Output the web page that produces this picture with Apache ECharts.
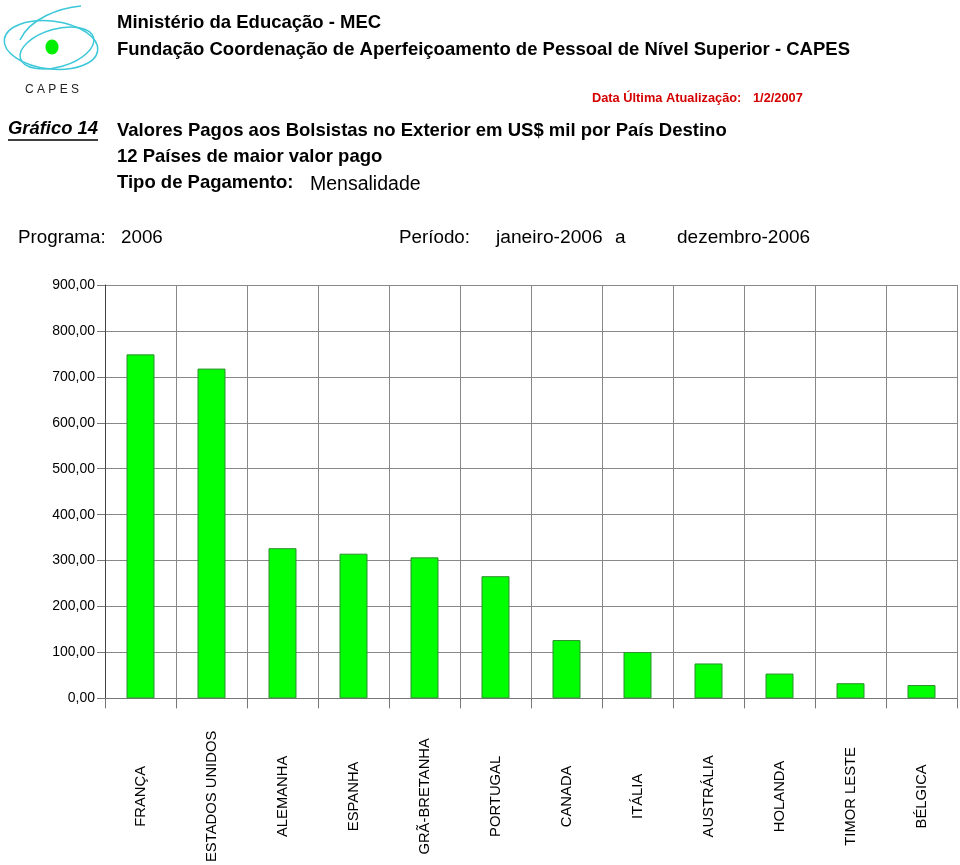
<!DOCTYPE html>
<html>
<head>
<meta charset="utf-8">
<script src="https://cdn.jsdelivr.net/npm/echarts@6/dist/echarts.min.js"></script>
<style>
html,body{margin:0;padding:0;background:#fff;}
#chart{width:960px;height:865px;}
</style>
</head>
<body>
<div id="chart"></div>
<script>
var categories = ['FRANÇA','ESTADOS UNIDOS','ALEMANHA','ESPANHA','GRÃ-BRETANHA','PORTUGAL','CANADA','ITÁLIA','AUSTRÁLIA','HOLANDA','TIMOR LESTE','BÉLGICA'];
var values = [749, 718, 327, 315, 307, 266, 127, 101, 76, 54, 33, 29];
var yTicks = {min: 0, max: 900, interval: 100};

var FONT = '"Liberation Sans", Arial, sans-serif';
var chart = echarts.init(document.getElementById('chart'), null, {renderer: 'canvas'});

function txt(x, y, text, size, opts) {
  opts = opts || {};
  return {
    type: 'text', x: x, y: y, silent: true,
    style: {
      text: text,
      fontFamily: FONT,
      fontSize: size,
      fontWeight: opts.weight || 'normal',
      fontStyle: opts.style || 'normal',
      fill: opts.color || '#000',
      textVerticalAlign: 'middle',
      textAlign: opts.align || 'left'
    }
  };
}

var graphics = [
  // logo
  {type: 'ellipse', x: 51, y: 45, rotation: -0.12, shape: {cx: 0, cy: 0, rx: 47, ry: 24}, style: {fill: 'none', stroke: '#3cc8d8', lineWidth: 1.5}, silent: true},
  {type: 'ellipse', x: 57, y: 48, rotation: 0.28, shape: {cx: 0, cy: 0, rx: 38, ry: 19}, style: {fill: 'none', stroke: '#3cc8d8', lineWidth: 1.5}, silent: true},
  {type: 'bezierCurve', shape: {x1: 20, y1: 40, cpx1: 30, cpy1: 18, x2: 81, y2: 6, cpx2: 60, cpy2: 8}, style: {fill: 'none', stroke: '#3cc8d8', lineWidth: 1.5}, silent: true},
  {type: 'ellipse', shape: {cx: 52, cy: 47, rx: 6.5, ry: 7.5}, style: {fill: '#00ee00'}, silent: true},
  txt(25, 90, 'C A P E S', 12, {color: '#222'}),
  // header
  txt(117, 23, 'Ministério da Educação - MEC', 18.5, {weight: 'bold'}),
  txt(117, 50, 'Fundação Coordenação de Aperfeiçoamento de Pessoal de Nível Superior - CAPES', 18.5, {weight: 'bold'}),
  txt(592, 98, 'Data Última Atualização:', 12.8, {weight: 'bold', color: '#d40000'}),
  txt(753, 98, '1/2/2007', 12.8, {weight: 'bold', color: '#d40000'}),
  txt(8, 129, 'Gráfico 14', 18.4, {weight: 'bold', style: 'italic'}),
  {type: 'line', shape: {x1: 8, y1: 140, x2: 98, y2: 140}, style: {stroke: '#000', lineWidth: 1.5}, silent: true},
  txt(117, 131, 'Valores Pagos aos Bolsistas no Exterior em US$ mil por País Destino', 18.5, {weight: 'bold'}),
  txt(117, 157, '12 Países de maior valor pago', 18.5, {weight: 'bold'}),
  txt(117, 183, 'Tipo de Pagamento:', 18.5, {weight: 'bold'}),
  txt(310, 185, 'Mensalidade', 19.5),
  txt(18, 238, 'Programa:', 18.8),
  txt(121, 238, '2006', 18.8),
  txt(399, 238, 'Período:', 18.8),
  txt(496, 238, 'janeiro-2006', 19.2),
  txt(615, 238, 'a', 19),
  txt(677, 238, 'dezembro-2006', 19)
];

var option = {
  backgroundColor: '#fff',
  animation: false,
  graphic: graphics,
  grid: {left: 105, right: 3, top: 285, bottom: 166, containLabel: false},
  xAxis: {
    type: 'category',
    data: categories,
    boundaryGap: true,
    axisLine: {show: true, lineStyle: {color: '#777', width: 1}},
    axisTick: {show: true, length: 10, interval: 0, lineStyle: {color: '#777'}},
    splitLine: {show: true, interval: 0, lineStyle: {color: '#888', width: 1}},
    axisLabel: {
      interval: 0, rotate: 90, align: 'center', verticalAlign: 'middle',
      margin: 98, fontSize: 14.8, fontFamily: FONT, color: '#000'
    }
  },
  yAxis: {
    type: 'value',
    min: yTicks.min, max: yTicks.max, interval: yTicks.interval,
    axisLine: {show: true, lineStyle: {color: '#444', width: 1}},
    axisTick: {show: true, length: 8, lineStyle: {color: '#777'}},
    splitLine: {show: true, lineStyle: {color: '#888', width: 1}},
    axisLabel: {
      fontSize: 14, fontFamily: FONT, color: '#000', margin: 10,
      formatter: function (v) { return v.toFixed(2).replace('.', ','); }
    }
  },
  series: [{
    type: 'bar',
    data: values,
    barWidth: 28,
    itemStyle: {color: '#00ff00', borderColor: '#2f8f2f', borderWidth: 1}
  }]
};
chart.setOption(option);
</script>
</body>
</html>
